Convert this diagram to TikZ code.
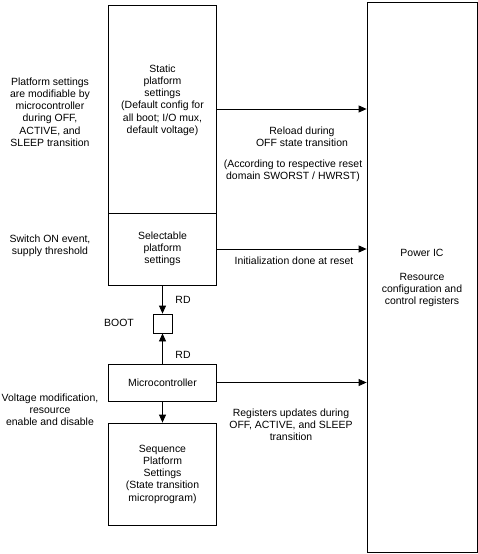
\documentclass[tikz,border=0pt]{standalone}
\usepackage{fontspec}
\setmainfont{Liberation Sans}
\usetikzlibrary{arrows.meta}
\begin{document}
\begin{tikzpicture}[x=1bp,y=-1bp,
  every node/.style={font=\fontsize{10.5}{12.3}\selectfont, align=center, inner sep=0pt},
  box/.style={draw, line width=0.8bp, rectangle, inner sep=0pt},
  lbl/.style={text=black},
  arr/.style={line width=0.8bp, -{Triangle[length=8bp,width=7bp]}},
  line width=0.8bp]
\useasboundingbox (0,0) rectangle (478,554);
% boxes
\node[box, minimum width=107.5bp, minimum height=208bp] (static) at (162.5,109) {};
\node[box, minimum width=107.5bp, minimum height=72bp] (select) at (162.5,249) {Selectable\\platform\\settings};
\node[box, minimum width=19bp, minimum height=19bp] (boot) at (162.5,323.5) {};
\node[box, minimum width=107.5bp, minimum height=37bp] (micro) at (162.5,382.5) {Microcontroller};
\node[box, minimum width=107.5bp, minimum height=102bp] (seq) at (162.5,474) {Sequence\\Platform\\Settings\\(State transition\\microprogram)};
\node[box, minimum width=110bp, minimum height=550bp] (power) at (422,277.5) {};
% texts
\node[lbl] (stxt) at (162.5,100) {Static\\platform\\settings\\(Default config for\\all boot; I/O mux,\\default voltage)};
\node[lbl] (ptxt) at (50,112) {Platform settings\\are modifiable by\\microcontroller\\during OFF,\\ACTIVE, and\\SLEEP transition};
\node[lbl] (swtxt) at (50,246) {Switch ON event,\\supply threshold};
\node[lbl] (vtxt) at (50,410) {Voltage modification,\\resource\\enable and disable};
\node[lbl] (rtxt) at (302,137) {Reload during\\OFF state transition};
\node[lbl] (atxt) at (293,171) {(According to respective reset\\domain SWORST / HWRST)};
\node[lbl] (itxt) at (294,261) {Initialization done at reset};
\node[lbl] (utxt) at (291,425) {Registers updates during\\OFF, ACTIVE, and SLEEP\\transition};
\node[lbl] (pic) at (422,253) {Power IC};
\node[lbl] (rcr) at (422,290) {Resource\\configuration and\\control registers};
\node[lbl] (boottxt) at (119,323) {BOOT};
\node[lbl] (rd1) at (183,300) {RD};
\node[lbl] (rd2) at (183,355) {RD};
% connectors
\draw[arr] (static.east) -- (static.east -| power.west);
\draw[arr] (select.east) -- (select.east -| power.west);
\draw[arr] (micro.east) -- (micro.east -| power.west);
\draw[arr] (select.south) -- (boot.north);
\draw[arr] (micro.north) -- (boot.south);
\draw[arr] (micro.south) -- (seq.north);
\end{tikzpicture}
\end{document}
